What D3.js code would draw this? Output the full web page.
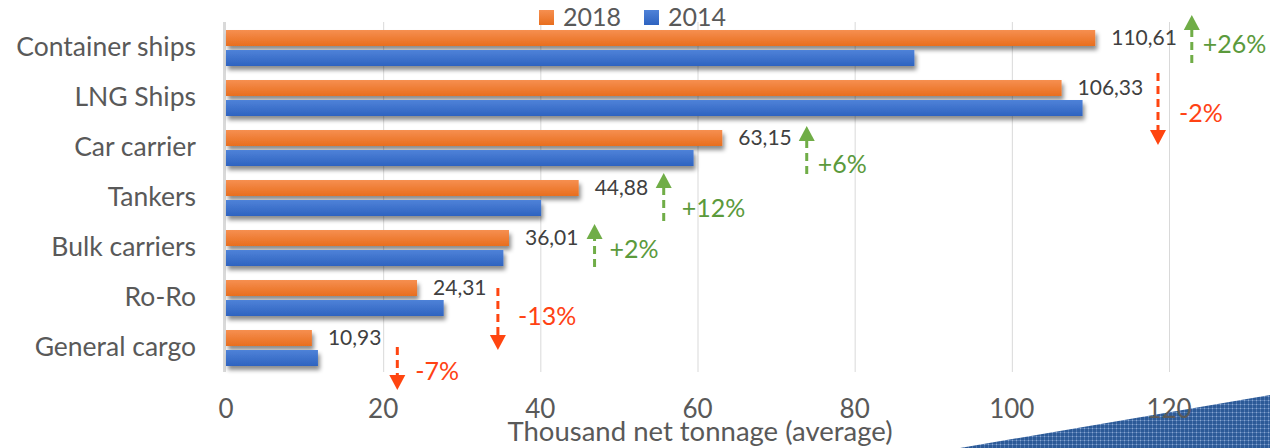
<!DOCTYPE html>
<html><head><meta charset="utf-8">
<script src="https://cdn.jsdelivr.net/npm/d3@7/dist/d3.min.js"></script>
<style>
html,body{margin:0;padding:0;background:#fff;}
svg{display:block;font-family:Lato, "Open Sans", sans-serif;}
</style></head>
<body>
<svg id="chart" width="1270" height="448"></svg>
<script>
const categories = ["Container ships","LNG Ships","Car carrier","Tankers","Bulk carriers","Ro-Ro","General cargo"];
const values2018 = [110.61, 106.33, 63.15, 44.88, 36.01, 24.31, 10.93];
const values2014 = [87.6, 109.0, 59.5, 40.1, 35.3, 27.7, 11.7];
const valueLabels = ["110,61","106,33","63,15","44,88","36,01","24,31","10,93"];
const changeLabels = ["+26%","-2%","+6%","+12%","+2%","-13%","-7%"];
const changeDir = ["up","down","up","up","up","down","down"];
const xTicks = [0,20,40,60,80,100,120];
const seriesNames = ["2018","2014"];
const xTitle = "Thousand net tonnage (average)";

// annotation layout (arrow x in data units, y offsets from band centre in px)
const annoX = [122.9, 118.6, 73.9, 55.7, 46.9, 34.6, 21.8];
const annoY0 = [-32, -24, -21, -24, -23, -9, 0];
const annoY1 = [16, 48, 27, 24, 20, 53, 43];
const annoTextDx = [11, 21, 11, 18, 15, 20, 18];
const annoTextDy = [6, 25, 26, 20, 11, 28, 33];

const svg = d3.select("#chart");
const x = d3.scaleLinear().domain([0,120]).range([226,1169]);
const y = d3.scaleBand().domain(categories).range([22,372]).paddingInner(0).paddingOuter(0);
const textCol = "#595959";

const defs = svg.append("defs");
const gO = defs.append("linearGradient").attr("id","gO").attr("x1",0).attr("y1",0).attr("x2",0).attr("y2",1);
gO.append("stop").attr("offset","0%").attr("stop-color","#f68f50");
gO.append("stop").attr("offset","100%").attr("stop-color","#e86e1e");
const gB = defs.append("linearGradient").attr("id","gB").attr("x1",0).attr("y1",0).attr("x2",0).attr("y2",1);
gB.append("stop").attr("offset","0%").attr("stop-color","#4f82d8");
gB.append("stop").attr("offset","100%").attr("stop-color","#2e63c0");
const f = defs.append("filter").attr("id","sh").attr("x","-5%").attr("y","-50%").attr("width","110%").attr("height","250%");
f.append("feDropShadow").attr("dx",2).attr("dy",4).attr("stdDeviation",2.2).attr("flood-color","#000").attr("flood-opacity",0.45);
const pat = defs.append("pattern").attr("id","pat").attr("width",4).attr("height",4).attr("patternUnits","userSpaceOnUse");
pat.append("rect").attr("width",4).attr("height",4).attr("fill","#2c5a97");
pat.append("rect").attr("x",0).attr("y",0).attr("width",4).attr("height",1).attr("fill","#4f77b0");
pat.append("rect").attr("x",0).attr("y",0).attr("width",1).attr("height",4).attr("fill","#4f77b0");
pat.append("rect").attr("x",0).attr("y",0).attr("width",1).attr("height",1).attr("fill","#8aa8d0");

// decorative triangle bottom right
svg.append("polygon").attr("points",`960,448 1270,395 1270,448`).attr("fill","url(#pat)");

// gridlines
svg.append("g").selectAll("line").data(xTicks.filter(d=>d>0)).join("line")
  .attr("x1",d=>x(d)+0.5).attr("x2",d=>x(d)+0.5).attr("y1",22).attr("y2",372)
  .attr("stroke","#d9d9d9").attr("stroke-width",1);
// axis line
svg.append("line").attr("x1",x(0)-1.5).attr("x2",x(0)-1.5).attr("y1",22).attr("y2",372)
  .attr("stroke","#d9d9d9").attr("stroke-width",3);

// bars
const barH = 16;
const gBars = svg.append("g").attr("filter","url(#sh)");
gBars.selectAll("rect.o").data(categories).join("rect").attr("class","o")
  .attr("x",x(0)).attr("y",d=>y(d)+8).attr("height",barH)
  .attr("width",(d,i)=>x(values2018[i])-x(0)).attr("fill","url(#gO)");
gBars.selectAll("rect.b").data(categories).join("rect").attr("class","b")
  .attr("x",x(0)).attr("y",d=>y(d)+28).attr("height",barH)
  .attr("width",(d,i)=>x(values2014[i])-x(0)).attr("fill","url(#gB)");

// value labels
svg.append("g").selectAll("text").data(categories).join("text")
  .attr("x",(d,i)=>x(values2018[i])+16).attr("y",d=>y(d)+8+barH/2+7)
  .attr("font-size",21).attr("fill","#404040").text((d,i)=>valueLabels[i]);

// category labels
svg.append("g").selectAll("text").data(categories).join("text")
  .attr("x",196).attr("y",d=>y(d)+y.bandwidth()/2+9).attr("text-anchor","end")
  .attr("font-size",26.5).attr("fill",textCol).text(d=>d);

// x ticks
svg.append("g").selectAll("text").data(xTicks).join("text")
  .attr("x",d=>x(d)).attr("y",418).attr("text-anchor","middle")
  .attr("font-size",26).attr("fill",textCol).text(d=>d);
svg.append("text").attr("x",700).attr("y",441).attr("text-anchor","middle")
  .attr("font-size",27.5).attr("fill",textCol).text(xTitle);

// legend
const legCols = ["url(#gO)","url(#gB)"];
const legX = [539, 644];
seriesNames.forEach((s,i)=>{
  svg.append("rect").attr("x",legX[i]).attr("y",10).attr("width",15).attr("height",15).attr("fill",legCols[i]);
  svg.append("text").attr("x",legX[i]+24).attr("y",26).attr("font-size",25).attr("fill",textCol).text(s);
});

// change annotations
const green = "#70ad47", greenT = "#5b9a3c", red = "#ff4510", redT = "#ff4214";
categories.forEach((c,i)=>{
  const cy = y(c)+y.bandwidth()/2;
  const ax = x(annoX[i]);
  const y0 = cy+annoY0[i], y1 = cy+annoY1[i];
  const up = changeDir[i]==="up";
  const col = up?green:red;
  const head = 15, hw = 8;
  if(up){
    svg.append("line").attr("x1",ax).attr("x2",ax).attr("y1",y1).attr("y2",y0+head)
      .attr("stroke",col).attr("stroke-width",3).attr("stroke-dasharray","8,5");
    svg.append("path").attr("d",`M${ax},${y0} L${ax-hw},${y0+head} L${ax+hw},${y0+head} Z`).attr("fill",col);
  } else {
    svg.append("line").attr("x1",ax).attr("x2",ax).attr("y1",y0).attr("y2",y1-head)
      .attr("stroke",col).attr("stroke-width",3).attr("stroke-dasharray","8,5");
    svg.append("path").attr("d",`M${ax},${y1} L${ax-hw},${y1-head} L${ax+hw},${y1-head} Z`).attr("fill",col);
  }
  svg.append("text").attr("x",ax+annoTextDx[i]).attr("y",cy+annoTextDy[i])
    .attr("font-size",25).attr("fill",up?greenT:redT).text(changeLabels[i]);
});
</script>
</body></html>
